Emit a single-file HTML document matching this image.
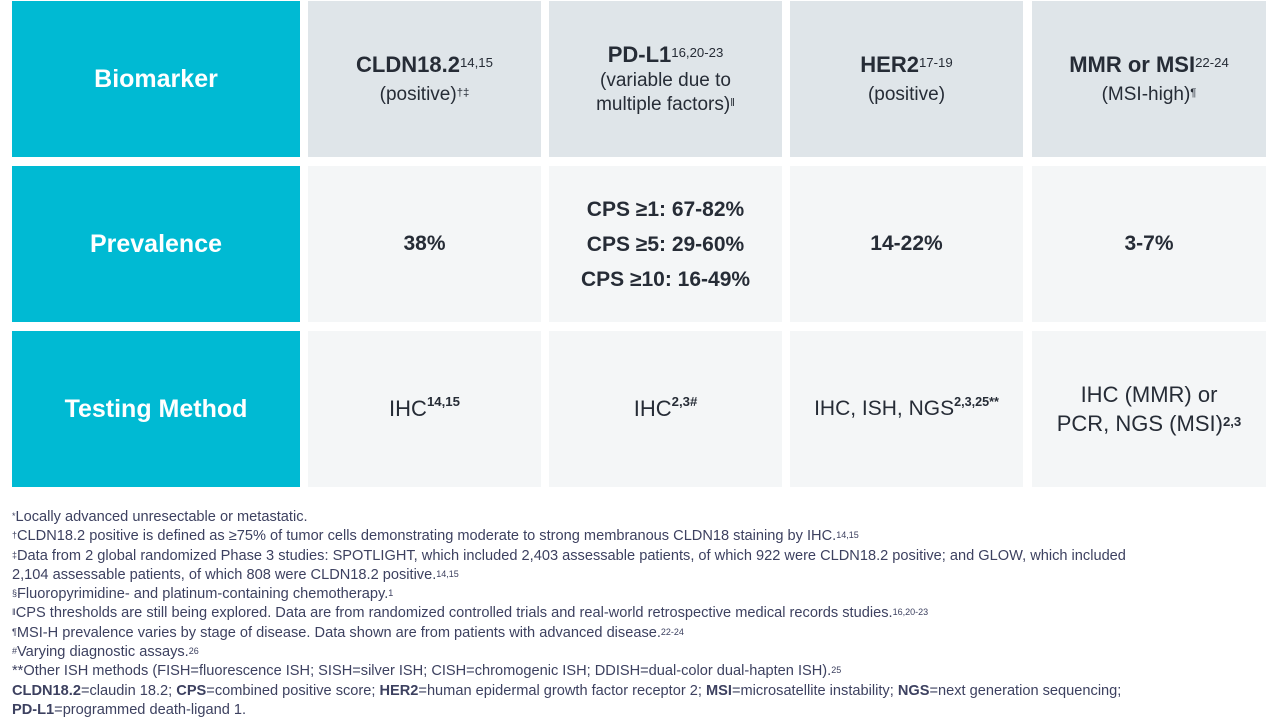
<!DOCTYPE html>
<html><head><meta charset="utf-8"><style>
body{margin:0;width:1280px;height:720px;background:#fff;font-family:"Liberation Sans",sans-serif;overflow:hidden;position:relative}
.c{position:absolute;display:flex;flex-direction:column;align-items:center;justify-content:center;text-align:center;box-sizing:border-box}
.t{background:#00bad3;color:#fff;font-size:25px;font-weight:bold;left:12px;width:288px}
.h{background:#dfe5e9;color:#262c36;top:1px;height:156px}
.b{background:#f4f6f7;color:#262c36;font-size:21px;font-weight:bold}
.h .m{font-size:22px;font-weight:bold;line-height:28px}
.h .s{font-size:19px;line-height:24px;margin-top:4px}
sup{font-size:60%;vertical-align:top;position:relative;top:-2px;font-weight:normal}
.b sup{font-weight:bold}
#fn{position:absolute;left:12px;top:508px;font-size:14.6px;line-height:19.3px;color:#3d4160;width:1268px;white-space:nowrap}
#fn sup{font-size:9px;top:-1px}
</style></head><body>
<div class="c t" style="top:1px;height:156px">Biomarker</div>
<div class="c t" style="top:166px;height:156px">Prevalence</div>
<div class="c t" style="top:331px;height:156px">Testing Method</div>

<div class="c h" style="left:308px;width:233px"><div class="m">CLDN18.2<sup>14,15</sup></div><div class="s">(positive)<sup>†‡</sup></div></div>
<div class="c h" style="left:549px;width:233px"><div class="m">PD-L1<sup>16,20-23</sup></div><div class="s" style="margin-top:0">(variable due to<br>multiple factors)<sup>ǁ</sup></div></div>
<div class="c h" style="left:790px;width:233px"><div class="m">HER2<sup>17-19</sup></div><div class="s">(positive)</div></div>
<div class="c h" style="left:1032px;width:234px"><div class="m">MMR or MSI<sup>22-24</sup></div><div class="s">(MSI-high)<sup>¶</sup></div></div>

<div class="c b" style="left:308px;width:233px;top:166px;height:156px">38%</div>
<div class="c b" style="left:549px;width:233px;top:166px;height:156px;line-height:35px"><div>CPS ≥1: 67-82%</div><div>CPS ≥5: 29-60%</div><div>CPS ≥10: 16-49%</div></div>
<div class="c b" style="left:790px;width:233px;top:166px;height:156px">14-22%</div>
<div class="c b" style="left:1032px;width:234px;top:166px;height:156px">3-7%</div>

<div class="c b" style="left:308px;width:233px;top:331px;height:156px;font-weight:normal;font-size:22px"><div>IHC<sup>14,15</sup></div></div>
<div class="c b" style="left:549px;width:233px;top:331px;height:156px;font-weight:normal;font-size:22px"><div>IHC<sup>2,3#</sup></div></div>
<div class="c b" style="left:790px;width:233px;top:331px;height:156px;font-weight:normal;font-size:21px"><div>IHC, ISH, NGS<sup>2,3,25**</sup></div></div>
<div class="c b" style="left:1032px;width:234px;top:331px;height:156px;font-weight:normal;font-size:22px;line-height:29px"><div>IHC (MMR) or</div><div>PCR, NGS (MSI)<sup>2,3</sup></div></div>

<div id="fn">
<div><sup>*</sup>Locally advanced unresectable or metastatic.</div>
<div><sup>†</sup>CLDN18.2 positive is defined as ≥75% of tumor cells demonstrating moderate to strong membranous CLDN18 staining by IHC.<sup>14,15</sup></div>
<div><sup>‡</sup>Data from 2 global randomized Phase 3 studies: SPOTLIGHT, which included 2,403 assessable patients, of which 922 were CLDN18.2 positive; and GLOW, which included</div>
<div>2,104 assessable patients, of which 808 were CLDN18.2 positive.<sup>14,15</sup></div>
<div><sup>§</sup>Fluoropyrimidine- and platinum-containing chemotherapy.<sup>1</sup></div>
<div><sup>ǁ</sup>CPS thresholds are still being explored. Data are from randomized controlled trials and real-world retrospective medical records studies.<sup>16,20-23</sup></div>
<div><sup>¶</sup>MSI-H prevalence varies by stage of disease. Data shown are from patients with advanced disease.<sup>22-24</sup></div>
<div><sup>#</sup>Varying diagnostic assays.<sup>26</sup></div>
<div>**Other ISH methods (FISH=fluorescence ISH; SISH=silver ISH; CISH=chromogenic ISH; DDISH=dual-color dual-hapten ISH).<sup>25</sup></div>
<div><b>CLDN18.2</b>=claudin 18.2; <b>CPS</b>=combined positive score; <b>HER2</b>=human epidermal growth factor receptor 2; <b>MSI</b>=microsatellite instability; <b>NGS</b>=next generation sequencing;</div>
<div><b>PD-L1</b>=programmed death-ligand 1.</div>
</div>
</body></html>
